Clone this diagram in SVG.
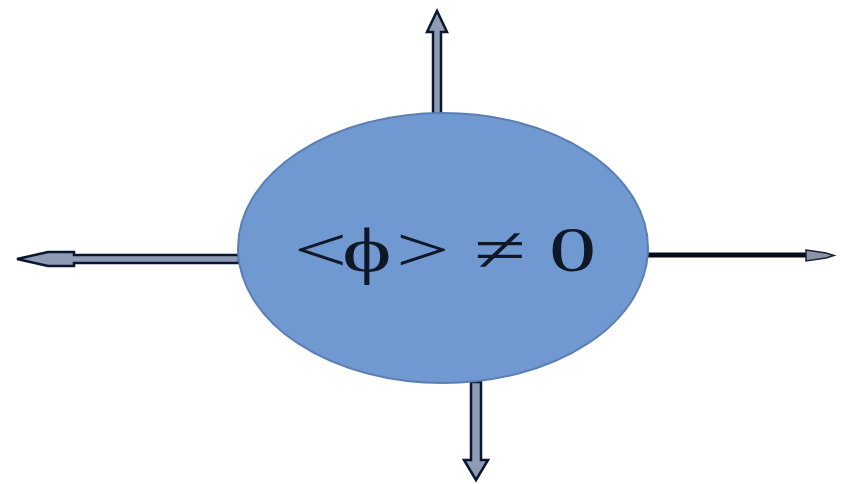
<svg xmlns="http://www.w3.org/2000/svg" width="853" height="484" viewBox="0 0 853 484">
<style>
.arr{fill:#8d9cb3;stroke:#0c1630;stroke-width:2.5;stroke-linejoin:miter}
.lbl{font-family:"Liberation Serif","Times New Roman",serif;font-size:63px;fill:#101828}
</style>
<rect width="853" height="484" fill="#ffffff"/>
<g id="connectors">
  <path class="arr" d="M433,114 L433,32 L427,32 L437,11 L447,32 L441,32 L441,114 Z"/>
  <path class="arr" d="M239,255 L74,255 L74,252 L48,252 L17,259 L48,266 L74,266 L74,263 L239,263 Z"/>
  <path d="M648,255 L808,255" stroke="#050a18" stroke-width="5" fill="none"/>
  <path d="M806,250 L826,253 L834,255.5 L826,258 L806,261 Z" fill="#8a94a6" stroke="#1a2236" stroke-width="1.5"/>
  <path class="arr" d="M471,382 L471,460 L464,460 L476,480 L488,460 L481,460 L481,382 Z"/>
</g>
<g id="node">
  <ellipse cx="443" cy="248" rx="205" ry="135" fill="#7199d1" stroke="#5a7fb5" stroke-width="2"/>
  <text class="lbl" transform="matrix(1.5 0 0 1 0 0)" x="196 228 264 300 316 350 366" y="271" xml:space="preserve">&lt;ϕ&gt; ≠ 0</text>
</g>
</svg>
